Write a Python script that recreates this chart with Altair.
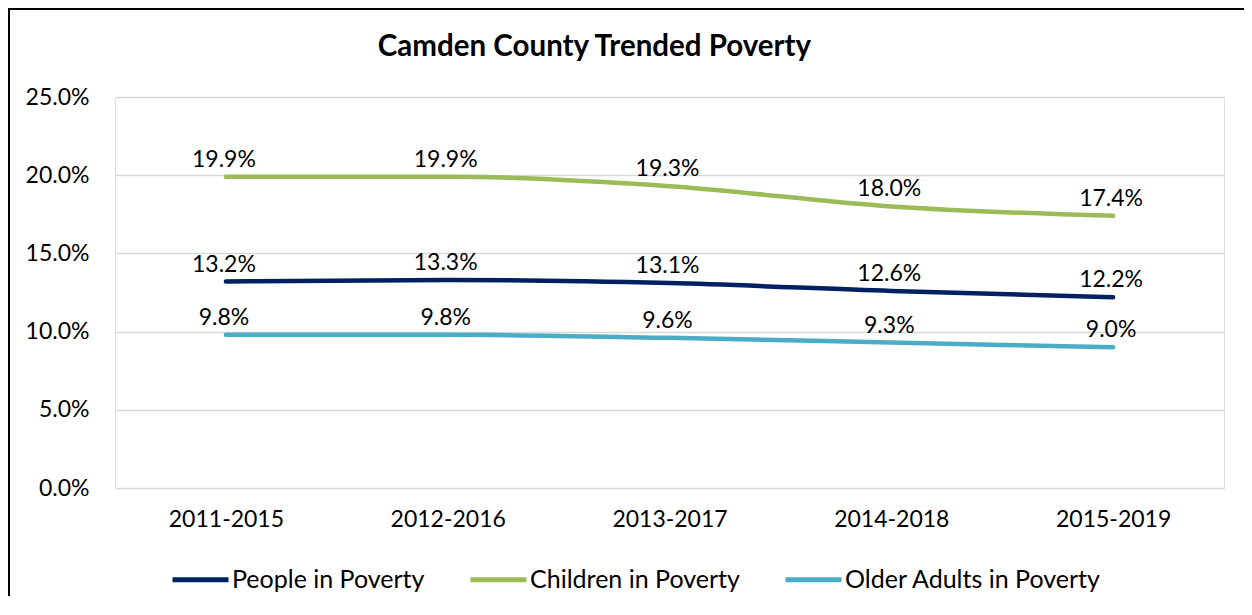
import altair as alt
import pandas as pd

categories = ["2011-2015", "2012-2016", "2013-2017", "2014-2018", "2015-2019"]
series_names = ["People in Poverty", "Children in Poverty", "Older Adults in Poverty"]
people = [13.2, 13.3, 13.1, 12.6, 12.2]
children = [19.9, 19.9, 19.3, 18.0, 17.4]
older = [9.8, 9.8, 9.6, 9.3, 9.0]
colors = ["#002060", "#9BBB59", "#4BACC6"]
y_ticks = [0, 5, 10, 15, 20, 25]

rows = []
for name, vals in zip(series_names, [people, children, older]):
    for c, v in zip(categories, vals):
        rows.append({"period": c, "series": name, "value": v})
df = pd.DataFrame(rows)

FONT = "Lato"

x = alt.X("period:N", sort=categories, title=None,
          scale=alt.Scale(type="point", padding=0.5),
          axis=alt.Axis(labelAngle=0, labelFontSize=23, labelFont=FONT, labelColor="#000000",
                        labelPadding=20, ticks=False, domain=False, grid=False))
y = alt.Y("value:Q", title=None, scale=alt.Scale(domain=[0, 25], nice=False),
          axis=alt.Axis(values=y_ticks, labelExpr="format(datum.value, '.1f') + '%'",
                        labelFontSize=23, labelFont=FONT, labelColor="#000000", labelPadding=26,
                        ticks=False, domain=False, grid=True, gridColor="#d9d9d9", gridWidth=1.5))
color = alt.Color("series:N", sort=series_names, title=None,
                  scale=alt.Scale(domain=series_names, range=colors),
                  legend=alt.Legend(orient="none", direction="horizontal", legendX=55, legendY=452,
                                    symbolType="stroke", symbolSize=3136, symbolStrokeWidth=5,
                                    labelFontSize=25, labelFont=FONT, labelColor="#000000",
                                    labelOffset=1, columnPadding=35, labelLimit=400))

base = alt.Chart(df)
lines = base.mark_line(strokeWidth=4.5, strokeCap="round", interpolate="monotone").encode(
    x=x, y=y, color=color, order=alt.Order("series:N"))
labels = base.transform_calculate(
    label="format(datum.value, '.1f') + '%'"
).mark_text(fontSize=23, font=FONT, color="#000000", baseline="alphabetic", dy=-10, dx=-2).encode(
    x=alt.X("period:N", sort=categories), y=alt.Y("value:Q"), text="label:N")

border = alt.Chart(pd.DataFrame({"a": [0]})).mark_rect(
    fillOpacity=0, stroke="#000000", strokeWidth=2).encode(
    x=alt.value(-106), x2=alt.value(3000), y=alt.value(-88), y2=alt.value(3000))

chart = alt.layer(lines, labels, border).properties(
    width=1109, height=391,
    padding={"left": 107, "top": 89, "right": 20, "bottom": 108},
    autosize=alt.AutoSizeParams(type="none"),
    title=alt.TitleParams("Camden County Trended Poverty", font=FONT, fontSize=29.5, fontWeight="bold",
                          color="#000000", anchor="middle", dx=-75, offset=-54),
).configure_view(stroke=None).configure(background="white")

chart.save("out.html", embed_options={"renderer": "svg", "actions": False})
